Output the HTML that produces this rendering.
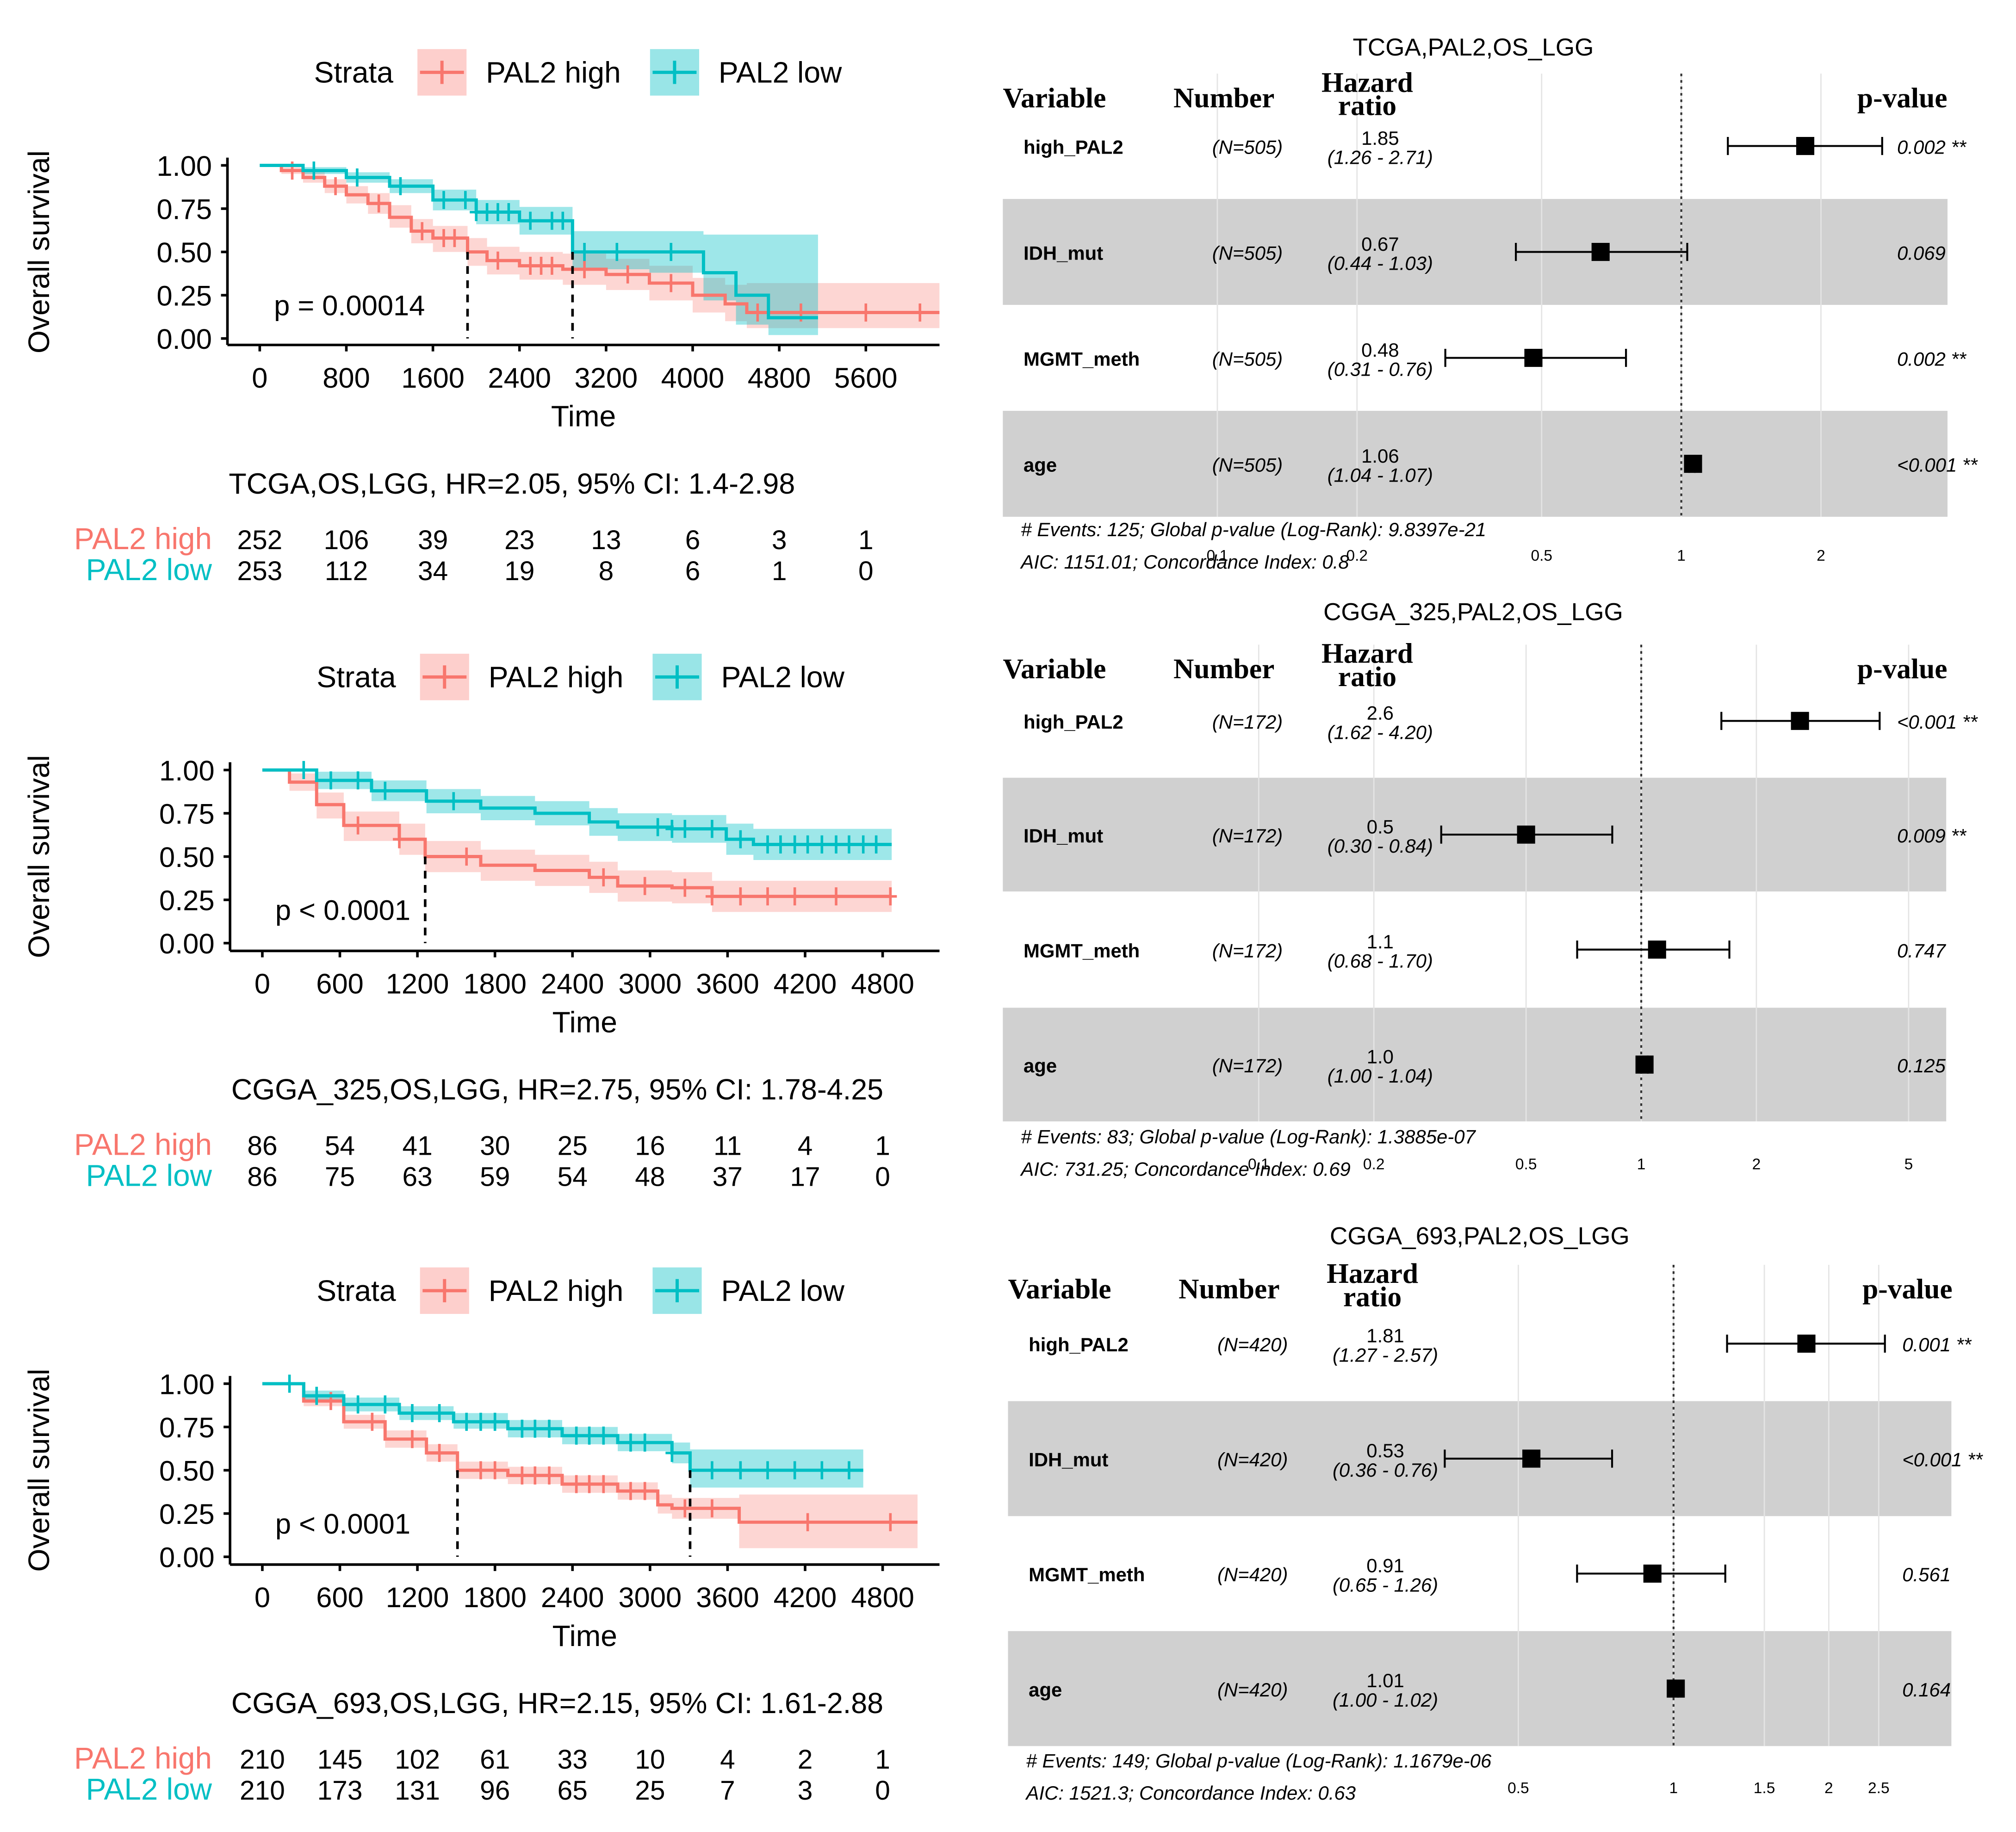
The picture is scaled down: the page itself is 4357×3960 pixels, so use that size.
<!DOCTYPE html>
<html><head><meta charset="utf-8"><style>
html,body{margin:0;padding:0;background:#fff}
svg{display:block}
</style></head><body>
<svg id="fig" xmlns="http://www.w3.org/2000/svg" width="4357" height="3960" viewBox="0 0 1560 1418" preserveAspectRatio="none"></svg>
<script>
// ===== KM data =====
const tcgaHighT=[0,200,400,600,800,1000,1200,1400,1600,1920,2100,2400,2800,3200,3600,4000,4300,4500];
const tcgaHighS=[1,0.97,0.93,0.88,0.83,0.78,0.70,0.62,0.58,0.50,0.45,0.42,0.40,0.37,0.32,0.25,0.20,0.15];
const tcgaHighLo=[1,0.95,0.90,0.84,0.78,0.72,0.64,0.55,0.50,0.42,0.37,0.34,0.31,0.28,0.22,0.15,0.10,0.06];
const tcgaHighHi=[1,0.99,0.96,0.92,0.88,0.84,0.77,0.69,0.65,0.58,0.53,0.50,0.49,0.46,0.42,0.35,0.31,0.32];
const tcgaLowT=[0,400,800,1200,1600,2000,2400,2890,3600,4100,4400,4700];
const tcgaLowS=[1,0.97,0.93,0.88,0.80,0.73,0.68,0.50,0.50,0.38,0.25,0.12];
const tcgaLowLo=[1,0.95,0.90,0.84,0.74,0.66,0.60,0.40,0.38,0.22,0.08,0.02];
const tcgaLowHi=[1,0.99,0.96,0.92,0.86,0.80,0.76,0.62,0.62,0.60,0.60,0.60];
const tcgaHighCens=[300,700,1100,1500,1700,1800,2200,2500,2600,2700,3000,3400,3800,4600,5000,5600,6100];
const tcgaLowCens=[500,900,1300,1700,1900,2000,2100,2200,2300,2500,2700,2800,3000,3300,3800];
const tcgaEnd=[6280,5158];
const tcgaMed=[1920,2890];

const c325HighT=[0,210,420,630,1060,1260,1690,2110,2530,2750,3170,3480];
const c325HighS=[1,0.93,0.80,0.68,0.60,0.50,0.45,0.42,0.38,0.33,0.32,0.27];
const c325HighLo=[1,0.88,0.72,0.59,0.51,0.41,0.36,0.33,0.29,0.24,0.23,0.18];
const c325HighHi=[1,0.98,0.87,0.76,0.69,0.59,0.54,0.51,0.47,0.42,0.41,0.36];
const c325LowT=[0,420,845,1270,1690,2110,2530,2750,3170,3590,3800];
const c325LowS=[1,0.94,0.88,0.82,0.78,0.75,0.70,0.67,0.66,0.60,0.57];
const c325LowLo=[1,0.89,0.82,0.75,0.71,0.68,0.62,0.59,0.58,0.51,0.48];
const c325LowHi=[1,0.99,0.94,0.89,0.85,0.82,0.78,0.75,0.74,0.69,0.66];
const c325HighCens=[740,1060,1580,2640,2960,3270,3480,3700,3910,4120,4440,4860];
const c325LowCens=[320,530,740,950,1480,3060,3170,3270,3480,3700,3910,4010,4120,4220,4330,4440,4540,4650,4750];
const c325End=[4870,4870];
const c325Med=[1260,null];

const c693HighT=[0,320,630,950,1270,1510,1900,2320,2750,3060,3170,3690];
const c693HighS=[1,0.90,0.78,0.68,0.60,0.50,0.47,0.42,0.38,0.30,0.28,0.20];
const c693HighLo=[1,0.87,0.74,0.63,0.55,0.45,0.42,0.37,0.33,0.25,0.22,0.05];
const c693HighHi=[1,0.93,0.82,0.73,0.65,0.55,0.52,0.47,0.43,0.36,0.34,0.36];
const c693LowT=[0,320,630,1060,1480,1900,2320,2750,3170,3310];
const c693LowS=[1,0.93,0.88,0.83,0.78,0.74,0.70,0.66,0.60,0.50];
const c693LowLo=[1,0.90,0.84,0.79,0.74,0.69,0.65,0.61,0.54,0.40];
const c693LowHi=[1,0.96,0.92,0.87,0.83,0.79,0.75,0.71,0.66,0.62];
const c693HighCens=[530,850,1160,1370,1690,1800,2010,2110,2220,2430,2530,2640,2850,2960,3270,3480,4220,4860];
const c693LowCens=[210,420,740,950,1160,1370,1580,1690,1800,2010,2110,2220,2430,2530,2640,2850,2960,3170,3480,3700,3910,4120,4330,4540];
const c693End=[5070,4650];
const c693Med=[1510,3310];

const tcgaRiskHigh=[252,106,39,23,13,6,3,1];
const tcgaRiskLow=[253,112,34,19,8,6,1,0];
const c325RiskHigh=[86,54,41,30,25,16,11,4,1];
const c325RiskLow=[86,75,63,59,54,48,37,17,0];
const c693RiskHigh=[210,145,102,61,33,10,4,2,1];
const c693RiskLow=[210,173,131,96,65,25,7,3,0];
const yTicks=[0,0.25,0.5,0.75,1];

// ===== Forest data =====
const fVars=["high_PAL2","IDH_mut","MGMT_meth","age"];
const tcgaHR=[1.85,0.67,0.48,1.06], tcgaLo=[1.26,0.44,0.31,1.04], tcgaHi=[2.71,1.03,0.76,1.07];
const tcgaHRTxt=["1.85","0.67","0.48","1.06"], tcgaP=["0.002 **","0.069","0.002 **","<0.001 **"];
const c325HR=[2.6,0.5,1.1,1.02], c325Lo=[1.62,0.30,0.68,1.00], c325Hi=[4.20,0.84,1.70,1.04];
const c325HRTxt=["2.6","0.5","1.1","1.0"], c325P=["<0.001 **","0.009 **","0.747","0.125"];
const c693HR=[1.81,0.53,0.91,1.01], c693Lo=[1.27,0.36,0.65,1.00], c693Hi=[2.57,0.76,1.26,1.02];
const c693HRTxt=["1.81","0.53","0.91","1.01"], c693P=["0.001 **","<0.001 **","0.561","0.164"];
const tcgaTicks=[0.1,0.2,0.5,1,2], c325Ticks=[0.1,0.2,0.5,1,2,5], c693Ticks=[0.5,1,1.5,2,2.5];

const NS="http://www.w3.org/2000/svg";
const svg=document.getElementById('fig');
function el(tag,attrs,parent,text){const e=document.createElementNS(NS,tag);for(const k in attrs)e.setAttribute(k,attrs[k]);if(text!==undefined)e.textContent=text;(parent||svg).appendChild(e);return e;}
const PINK="#F8766D",TEAL="#00BFC4",SANS='"Liberation Sans", Arial, sans-serif',SERIF='"Liberation Serif", serif';

function stepPts(t,s,tEnd,X,Y){const p=[[X(t[0]),Y(s[0])]];for(let i=1;i<t.length;i++){p.push([X(t[i]),Y(s[i-1])]);p.push([X(t[i]),Y(s[i])]);}p.push([X(tEnd),Y(s[s.length-1])]);return p;}
function survAt(t,s,v){let r=s[0];for(let i=0;i<t.length;i++)if(t[i]<=v)r=s[i];return r;}

function km(cfg){
  const g=el('g',{},svg);
  
  const X=v=>cfg.x0+(v/cfg.tmax)*(cfg.x1-cfg.x0), Y=v=>cfg.yBot-(cfg.yBot-cfg.yTop)*v;
  const lg=el('g',{},g);
  el('text',{x:cfg.lx,y:cfg.ly+8,'font-family':SANS,'font-size':23},lg,'Strata');
  [[PINK,'rgba(248,118,109,0.35)','PAL2 high',cfg.lx+80],[TEAL,'rgba(0,191,196,0.4)','PAL2 low',cfg.lx+260]].forEach(([c,f,l,x])=>{
    const e=el('g',{},lg);
    el('rect',{x:x,y:cfg.ly-18,width:38,height:36,fill:f},e);
    el('line',{x1:x+2,x2:x+36,y1:cfg.ly,y2:cfg.ly,stroke:c,'stroke-width':2.5},e);
    el('line',{x1:x+19,x2:x+19,y1:cfg.ly-9,y2:cfg.ly+9,stroke:c,'stroke-width':2.5},e);
    el('text',{x:x+53,y:cfg.ly+8,'font-family':SANS,'font-size':23},e,l);
  });
  const series=[[cfg.hT,cfg.hS,cfg.hLo,cfg.hHi,cfg.end[0],cfg.hC,PINK,'rgba(248,118,109,0.3)','high'],[cfg.lT,cfg.lS,cfg.lLo,cfg.lHi,cfg.end[1],cfg.lC,TEAL,'rgba(0,191,196,0.38)','low']];
  series.forEach(([t,s,lo,hi,te,cens,c,f,n])=>{
    const up=stepPts(t,hi,te,X,Y), dn=stepPts(t,lo,te,X,Y).reverse();
    const b=el('polygon',{points:up.concat(dn).map(p=>p.join(',')).join(' '),fill:f},g);
    
  });
  series.forEach(([t,s,lo,hi,te,cens,c,f,n])=>{
    const p=stepPts(t,s,te,X,Y);
    const l=el('polyline',{points:p.map(q=>q.join(',')).join(' '),fill:'none',stroke:c,'stroke-width':2.5},g);
    
    cens.forEach(v=>{if(v>te)return;const y=Y(survAt(t,s,v)),x=X(v);
      const m=el('path',{d:`M${x-5},${y}H${x+5}M${x},${y-7}V${y+7}`,stroke:c,'stroke-width':2},g);
      });
  });
  cfg.med.forEach(v=>{if(v==null)return;const d=el('line',{x1:X(v),x2:X(v),y1:Y(0.5),y2:Y(0),stroke:'#000','stroke-width':2,'stroke-dasharray':'6,5'},g);
    });
  el('line',{x1:cfg.aL,x2:cfg.aL,y1:cfg.yTop-6,y2:cfg.aY,stroke:'#000','stroke-width':2},g);
  el('line',{x1:cfg.aL,x2:cfg.aR,y1:cfg.aY,y2:cfg.aY,stroke:'#000','stroke-width':2},g);
  yTicks.forEach(v=>{el('line',{x1:cfg.aL-5,x2:cfg.aL,y1:Y(v),y2:Y(v),stroke:'#000','stroke-width':2},g);
    el('text',{x:cfg.aL-12,y:Y(v)+8,'text-anchor':'end','font-family':SANS,'font-size':22},g,v.toFixed(2));});
  for(let v=0;v<=cfg.tmax;v+=cfg.step){el('line',{x1:X(v),x2:X(v),y1:cfg.aY,y2:cfg.aY+5,stroke:'#000','stroke-width':2},g);
    el('text',{x:X(v),y:cfg.aY+33,'text-anchor':'middle','font-family':SANS,'font-size':22},g,String(v));}
  const yt=el('text',{x:0,y:0,transform:`translate(38,${(cfg.yTop+cfg.yBot)/2}) rotate(-90)`,'text-anchor':'middle','font-family':SANS,'font-size':23},g,'Overall survival');
  
  const xt=el('text',{x:(cfg.aL+cfg.aR)/2,y:cfg.aY+63,'text-anchor':'middle','font-family':SANS,'font-size':23},g,'Time');
  
  el('text',{x:cfg.px,y:cfg.yBot-18,'font-family':SANS,'font-size':22},g,cfg.ptxt);
  const tt=el('text',{x:cfg.aL+1,y:cfg.aY+115,'font-family':SANS,'font-size':22.5},g,cfg.title);
  
  const rt=el('g',{},g);
  [[cfg.rH,PINK,'PAL2 high',0],[cfg.rL,TEAL,'PAL2 low',24]].forEach(([arr,c,l,dy])=>{
    const y=cfg.aY+158+dy;
    el('text',{x:164,y:y,'text-anchor':'end','font-family':SANS,'font-size':23.5,fill:c},rt,l);
    arr.forEach((v,i)=>el('text',{x:X(i*cfg.step),y:y,'text-anchor':'middle','font-family':SANS,'font-size':21},rt,String(v)));
  });
}

km({name:'km-tcga',tmax:5600,step:800,x0:201,x1:670,yTop:128,yBot:262,aY:267,aL:176,aR:727,lx:243,ly:56,px:212,ptxt:'p = 0.00014',
 title:'TCGA,OS,LGG, HR=2.05, 95% CI: 1.4-2.98',hT:tcgaHighT,hS:tcgaHighS,hLo:tcgaHighLo,hHi:tcgaHighHi,lT:tcgaLowT,lS:tcgaLowS,lLo:tcgaLowLo,lHi:tcgaLowHi,
 hC:tcgaHighCens,lC:tcgaLowCens,end:tcgaEnd,med:tcgaMed,rH:tcgaRiskHigh,rL:tcgaRiskLow});
km({name:'km-cgga325',tmax:4800,step:600,x0:203,x1:683,yTop:596,yBot:730,aY:736,aL:178,aR:727,lx:245,ly:524,px:213,ptxt:'p < 0.0001',
 title:'CGGA_325,OS,LGG, HR=2.75, 95% CI: 1.78-4.25',hT:c325HighT,hS:c325HighS,hLo:c325HighLo,hHi:c325HighHi,lT:c325LowT,lS:c325LowS,lLo:c325LowLo,lHi:c325LowHi,
 hC:c325HighCens,lC:c325LowCens,end:c325End,med:c325Med,rH:c325RiskHigh,rL:c325RiskLow});
km({name:'km-cgga693',tmax:4800,step:600,x0:203,x1:683,yTop:1071,yBot:1205,aY:1211,aL:178,aR:727,lx:245,ly:999,px:213,ptxt:'p < 0.0001',
 title:'CGGA_693,OS,LGG, HR=2.15, 95% CI: 1.61-2.88',hT:c693HighT,hS:c693HighS,hLo:c693HighLo,hHi:c693HighHi,lT:c693LowT,lS:c693LowS,lLo:c693LowLo,lHi:c693LowHi,
 hC:c693HighCens,lC:c693LowCens,end:c693End,med:c693Med,rH:c693RiskHigh,rL:c693RiskLow});

function forest(cfg){
  const g=el('g',{},svg);
  const X=v=>cfg.x1+cfg.dec*Math.log10(v);
  const t=el('text',{x:cfg.tx,y:cfg.ty,'text-anchor':'middle','font-family':SANS,'font-size':19},g,cfg.title);
  
  const rh=(cfg.rows[1]-cfg.rows[0]);
  [1,3].forEach(i=>{const b=el('rect',{x:cfg.bx,y:cfg.rows[i]-rh/2,width:cfg.bw,height:rh,fill:'#d0d0d0'},g);
    });
  const top=cfg.hy-18,bot=cfg.rows[3]+rh/2;
  cfg.ticks.forEach(v=>{el('line',{x1:X(v),x2:X(v),y1:top,y2:bot,stroke:'#e4e4e4','stroke-width':1},g);
    el('text',{x:X(v),y:cfg.tky,'text-anchor':'middle','font-family':SANS,'font-size':12},g,String(v));});
  el('line',{x1:X(1),x2:X(1),y1:top,y2:bot,stroke:'#333','stroke-width':1.5,'stroke-dasharray':'2,3'},g);
  const hf={'font-family':SERIF,'font-size':22,'font-weight':'bold'};
  el('text',Object.assign({x:cfg.bx,y:cfg.hy+8},hf),g,'Variable');
  el('text',Object.assign({x:cfg.bx+132,y:cfg.hy+8},hf),g,'Number');
  el('text',Object.assign({x:cfg.bx+282,y:cfg.hy-4,'text-anchor':'middle'},hf),g,'Hazard');
  el('text',Object.assign({x:cfg.bx+282,y:cfg.hy+14,'text-anchor':'middle'},hf),g,'ratio');
  el('text',Object.assign({x:cfg.bx+696,y:cfg.hy+8,'text-anchor':'middle'},hf),g,'p-value');
  fVars.forEach((v,i)=>{const y=cfg.rows[i];
    const r=el('g',{},g);
    el('text',{x:cfg.bx+16,y:y+6,'font-family':SANS,'font-size':15,'font-weight':'bold'},r,v);
    el('text',{x:cfg.bx+162,y:y+6,'font-family':SANS,'font-size':15,'font-style':'italic'},r,cfg.n);
    el('text',{x:cfg.bx+292,y:y-1,'text-anchor':'middle','font-family':SANS,'font-size':15},r,cfg.hrT[i]);
    el('text',{x:cfg.bx+292,y:y+14,'text-anchor':'middle','font-family':SANS,'font-size':15,'font-style':'italic'},r,'('+cfg.lo[i].toFixed(2)+' - '+cfg.hi[i].toFixed(2)+')');
    el('text',{x:cfg.px,y:y+6,'font-family':SANS,'font-size':15,'font-style':'italic'},r,cfg.p[i]);
    const a=X(cfg.lo[i]),b=X(cfg.hi[i]),c=X(cfg.hr[i]);
    el('path',{d:`M${a},${y}H${b}M${a},${y-7}V${y+7}M${b},${y-7}V${y+7}`,stroke:'#000','stroke-width':1.5},r);
    const m=el('rect',{x:c-7,y:y-7,width:14,height:14,fill:'#000'},r);
    
  });
  el('text',{x:cfg.bx+14,y:cfg.fy,'font-family':SANS,'font-size':15,'font-style':'italic'},g,cfg.f1);
  el('text',{x:cfg.bx+14,y:cfg.fy+25,'font-family':SANS,'font-size':15,'font-style':'italic'},g,cfg.f2);
}
forest({name:'forest-tcga',title:'TCGA,PAL2,OS_LGG',tx:1140,ty:43,hy:75,rows:[113,195,277,359],bx:776,bw:731,x1:1301,dec:359,ticks:tcgaTicks,tky:434,
 n:'(N=505)',hr:tcgaHR,lo:tcgaLo,hi:tcgaHi,hrT:tcgaHRTxt,p:tcgaP,px:1468,fy:415,f1:'# Events: 125; Global p-value (Log-Rank): 9.8397e-21',f2:'AIC: 1151.01; Concordance Index: 0.8'});
forest({name:'forest-cgga325',title:'CGGA_325,PAL2,OS_LGG',tx:1140,ty:480,hy:517,rows:[558,646,735,824],bx:776,bw:730,x1:1270,dec:296,ticks:c325Ticks,tky:905,
 n:'(N=172)',hr:c325HR,lo:c325Lo,hi:c325Hi,hrT:c325HRTxt,p:c325P,px:1468,fy:885,f1:'# Events: 83; Global p-value (Log-Rank): 1.3885e-07',f2:'AIC: 731.25; Concordance Index: 0.69'});
forest({name:'forest-cgga693',title:'CGGA_693,PAL2,OS_LGG',tx:1145,ty:963,hy:997,rows:[1040,1129,1218,1307],bx:780,bw:730,x1:1295,dec:399,ticks:c693Ticks,tky:1388,
 n:'(N=420)',hr:c693HR,lo:c693Lo,hi:c693Hi,hrT:c693HRTxt,p:c693P,px:1472,fy:1368,f1:'# Events: 149; Global p-value (Log-Rank): 1.1679e-06',f2:'AIC: 1521.3; Concordance Index: 0.63'});
</script>
</body></html>
